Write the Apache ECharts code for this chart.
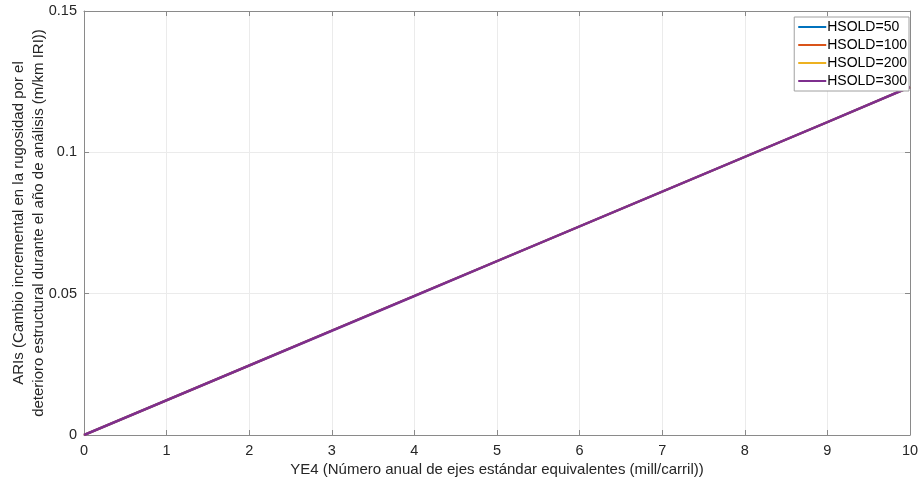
<!DOCTYPE html>
<html><head><meta charset="utf-8">
<script src="https://cdn.jsdelivr.net/npm/echarts@6/dist/echarts.min.js"></script>
<style>html,body{margin:0;padding:0;background:#fff}#c{width:921px;height:483px}</style>
</head><body><div id="c"></div>
<script>
const xValues = [0, 1, 2, 3, 4, 5, 6, 7, 8, 9, 10];
const hsold50  = [0, 0.0123, 0.0246, 0.0369, 0.0492, 0.0615, 0.0738, 0.0861, 0.0984, 0.1107, 0.1231];
const hsold100 = [0, 0.0123, 0.0246, 0.0369, 0.0492, 0.0615, 0.0738, 0.0861, 0.0984, 0.1107, 0.1231];
const hsold200 = [0, 0.0123, 0.0246, 0.0369, 0.0492, 0.0615, 0.0738, 0.0861, 0.0984, 0.1107, 0.1231];
const hsold300 = [0, 0.0123, 0.0246, 0.0369, 0.0492, 0.0615, 0.0738, 0.0861, 0.0984, 0.1107, 0.1231];
const seriesNames = ['HSOLD=50', 'HSOLD=100', 'HSOLD=200', 'HSOLD=300'];
const seriesColors = ['#0072BD', '#D95319', '#EDB120', '#7E2F8E'];
const xTitle = 'YE4 (Número anual de ejes estándar equivalentes (mill/carril))';
const yTitle = 'ARIs (Cambio incremental en la rugosidad por el\ndeterioro estructural durante el año de análisis (m/km IRI))';

const font = 'Liberation Sans, Arial, Helvetica, sans-serif';
const axisCol = '#8a8a8a';
const allData = [hsold50, hsold100, hsold200, hsold300];

const chart = echarts.init(document.getElementById('c'), null, {renderer: 'canvas'});
chart.setOption({
  animation: false,
  backgroundColor: '#fff',
  textStyle: {fontFamily: font},
  grid: {left: 84, right: 11, top: 11, bottom: 48, containLabel: false, outerBoundsMode: 'none'},
  legend: {
    orient: 'vertical', right: 12, top: 17,
    backgroundColor: '#fff', borderColor: '#a0a0a0', borderWidth: 1,
    padding: [3, 2, 3, 4], itemGap: 4, itemWidth: 28, itemHeight: 14,
    icon: 'path://M0,6 L28,6 L28,8 L0,8 Z',
    textStyle: {fontFamily: font, fontSize: 14, color: '#000', padding: [0, 0, 0, -4]},
    data: seriesNames
  },
  xAxis: [{
    type: 'value', min: 0, max: 10, interval: 1,
    name: xTitle, nameLocation: 'middle', nameGap: 27, nameMoveOverlap: false,
    nameTextStyle: {fontFamily: font, fontSize: 15, color: '#262626'},
    axisLine: {show: true, onZero: false, lineStyle: {color: axisCol, width: 1}},
    axisTick: {show: true, inside: true, length: 5, lineStyle: {color: axisCol}},
    axisLabel: {fontFamily: font, fontSize: 14.5, color: '#262626', margin: 8},
    splitLine: {show: true, lineStyle: {color: '#ebebeb', width: 1}}
  }, {
    type: 'value', min: 0, max: 10, interval: 1, position: 'top',
    axisLine: {show: true, onZero: false, lineStyle: {color: axisCol, width: 1}},
    axisTick: {show: true, inside: true, length: 5, lineStyle: {color: axisCol}},
    axisLabel: {show: false}, splitLine: {show: false}
  }],
  yAxis: [{
    type: 'value', min: 0, max: 0.15, interval: 0.05,
    name: yTitle, nameLocation: 'middle', nameGap: 35, nameRotate: 90, nameMoveOverlap: false,
    nameTextStyle: {fontFamily: font, fontSize: 15, color: '#262626', lineHeight: 20},
    axisLine: {show: true, onZero: false, lineStyle: {color: axisCol, width: 1}},
    axisTick: {show: true, inside: true, length: 5, lineStyle: {color: axisCol}},
    axisLabel: {fontFamily: font, fontSize: 14.5, color: '#262626', margin: 7},
    splitLine: {show: true, lineStyle: {color: '#ebebeb', width: 1}}
  }, {
    type: 'value', min: 0, max: 0.15, interval: 0.05, position: 'right',
    axisLine: {show: true, onZero: false, lineStyle: {color: axisCol, width: 1}},
    axisTick: {show: true, inside: true, length: 5, lineStyle: {color: axisCol}},
    axisLabel: {show: false}, splitLine: {show: false}
  }],
  series: seriesNames.map((n, i) => ({
    name: n, type: 'line', xAxisIndex: 0, yAxisIndex: 0,
    data: xValues.map((x, k) => [x, allData[i][k]]),
    showSymbol: false, symbol: 'none',
    lineStyle: {color: seriesColors[i], width: i === 3 ? 2.6 : 2},
    itemStyle: {color: seriesColors[i]}
  }))
});
</script></body></html>
